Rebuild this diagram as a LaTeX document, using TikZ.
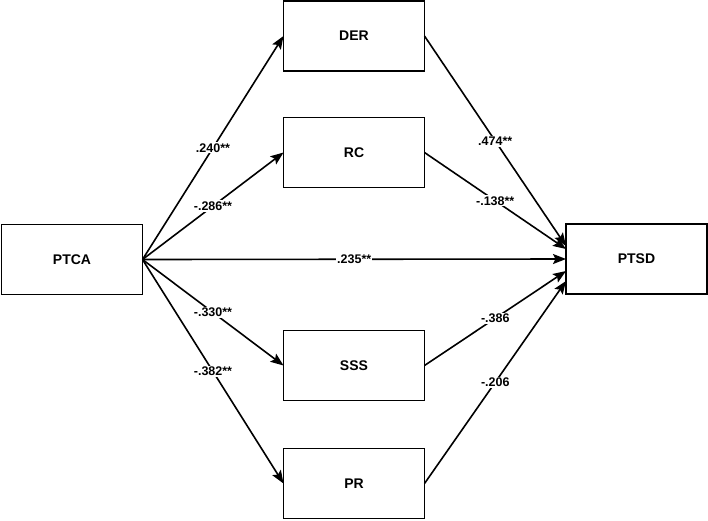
\documentclass[tikz,border=0pt]{standalone}
\usepackage{fontspec}
\setmainfont{Liberation Sans}
\usetikzlibrary{arrows.meta,calc}
\tikzset{
  varbox/.style={draw=black, line width=1.6pt, fill=white, minimum width=141pt, minimum height=70pt, inner sep=0pt, outer sep=0pt, font=\fontsize{14}{16}\selectfont\bfseries},
  path/.style={draw=black, line width=1.6pt, -{Stealth[length=13pt,width=10pt,inset=2.5pt]}},
  coef/.style={fill=white, inner sep=1.2pt, font=\fontsize{12.5}{14}\selectfont\bfseries, midway}
}
\begin{document}
\begin{tikzpicture}[x=1pt,y=-1pt]
\useasboundingbox (0,0) rectangle (708,520);
\node[varbox] (PTCA) at (72,259.5) {PTCA};
\node[varbox] (DER) at (354,36) {DER};
\node[varbox] (RC) at (354,152.5) {RC};
\node[varbox] (SSS) at (354,365.5) {SSS};
\node[varbox] (PR) at (354,483.5) {PR};
\node[varbox] (PTSD) at (636.5,259) {PTSD};

\draw[path] (PTCA.east) -- (DER.west) node[coef] {.240**};
\draw[path] (PTCA.east) -- (RC.west) node[coef] {-.286**};
\draw[path] (PTCA.east) -- (PTSD.west) node[coef] {.235**};
\draw[path] (PTCA.east) -- (SSS.west) node[coef] {-.330**};
\draw[path] (PTCA.east) -- (PR.west) node[coef] {-.382**};

\draw[path] (DER.east) -- ($(PTSD.west)+(0,-13)$) node[coef] {.474**};
\draw[path] (RC.east) -- ($(PTSD.west)+(0,-10)$) node[coef] {-.138**};
\draw[path] (SSS.east) -- ($(PTSD.west)+(0,12)$) node[coef] {-.386};
\draw[path] (PR.east) -- ($(PTSD.west)+(0,22)$) node[coef] {-.206};
\end{tikzpicture}
\end{document}
